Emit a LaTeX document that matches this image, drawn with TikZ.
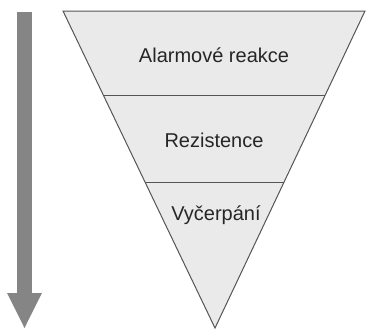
\documentclass[tikz,border=0pt]{standalone}
\usepackage{fontspec}
\setmainfont{Liberation Sans}
\usepackage{tikz}
\usetikzlibrary{arrows.meta,positioning,calc}
\definecolor{lvlfill}{HTML}{EAEAEA}
\definecolor{lvlline}{HTML}{555555}
\definecolor{flowgray}{HTML}{858585}

\begin{document}
\begin{tikzpicture}[x=1pt,y=-1pt,
  lvl/.style={fill=lvlfill, draw=lvlline, line width=1pt, line join=miter},
  sep/.style={draw=lvlline, line width=1pt},
  stage/.style={font=\fontsize{20}{24}\selectfont, text=black!85, inner sep=0pt},
  flow/.style={line width=15pt, draw=flowgray, -{Triangle[width=32pt,length=36pt]}}
]
  \useasboundingbox (0,0) rectangle (366,330);
  % funnel corners
  \coordinate (tl) at (63,11);
  \coordinate (tr) at (365,11);
  \coordinate (apex) at (215,328);
  \filldraw[lvl] (tl) -- (tr) -- (apex) -- cycle;
  % level separators
  \coordinate (s1l) at ($(tl)!0.268!(apex)$);
  \coordinate (s1r) at ($(tr)!0.268!(apex)$);
  \coordinate (s2l) at ($(tl)!0.54!(apex)$);
  \coordinate (s2r) at ($(tr)!0.54!(apex)$);
  \draw[sep] (s1l) -- (s1r);
  \draw[sep] (s2l) -- (s2r);

  \node[stage] (alarm) at (214,55) {Alarmové reakce};
  \node[stage] (rez)   at (214,140) {Rezistence};
  \node[stage] (vyc)   at (216,215) {Vyčerpání};

  % direction arrow
  \coordinate (atop) at (24.5,12);
  \coordinate (abot) at (24.5,329);
  \draw[flow] (atop) -- (abot);
\end{tikzpicture}
\end{document}
